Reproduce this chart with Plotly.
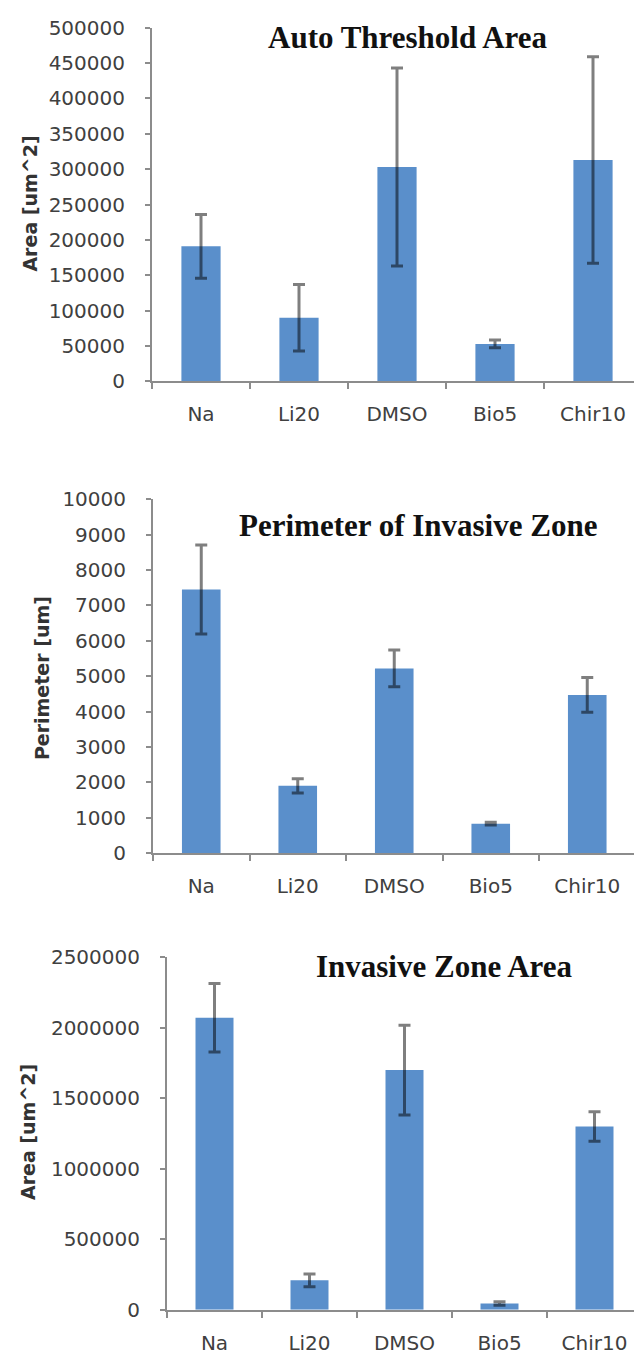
import plotly.graph_objects as go

categories = ["Na", "Li20", "DMSO", "Bio5", "Chir10"]

auto_area = [191000, 90000, 303000, 53000, 313000]
auto_area_err = [45000, 47000, 140000, 5500, 146000]

perimeter = [7450, 1900, 5220, 830, 4470]
perimeter_err = [1260, 200, 520, 40, 490]

inv_area = [2070000, 209000, 1700000, 45000, 1300000]
inv_area_err = [243000, 46000, 318000, 12000, 105000]

titles = ["Auto Threshold Area", "Perimeter of Invasive Zone", "Invasive Zone Area"]
ytitles = ["Area [um^2]", "Perimeter [um]", "Area [um^2]"]
ymax = [500000, 10000, 2500000]
ydtick = [50000, 1000, 500000]

W, H = 634, 1370
BAR = "#5a8fcb"
AXC = "#8c8c8c"
TICKFONT = dict(family="DejaVu Sans", size=20, color="#404040")

# pixel geometry of each panel: axis x, category width, zero y, top y
panels = [
    dict(ax=152, cw=98.0, y0=376, y1=16, tx=408, ty=26, yx=30, yy=195),
    dict(ax=153, cw=96.5, y0=856, y1=496, tx=418, ty=523, yx=42, yy=678),
    dict(ax=167, cw=95.0, y0=1321, y1=962, tx=444, ty=972, yx=28, yy=1140),
]

series = [(auto_area, auto_area_err), (perimeter, perimeter_err), (inv_area, inv_area_err)]

fig = go.Figure()
annotations = []
for i, (p, (vals, errs)) in enumerate(zip(panels, series)):
    sfx = "" if i == 0 else str(i + 1)
    fig.add_trace(go.Bar(
        x=categories, y=vals, width=0.4,
        marker=dict(color=BAR, line=dict(width=0)),
        error_y=dict(type="data", array=errs, visible=True,
                     color="rgba(0,0,0,0.5)", thickness=3, width=6),
        xaxis="x" + sfx, yaxis="y" + sfx, showlegend=False,
    ))
    xr_end = (W - p["ax"]) / p["cw"] - 0.5
    fig.update_layout({
        "xaxis" + sfx: dict(
            domain=[p["ax"] / W, 1], range=[-0.5, xr_end],
            anchor="y" + sfx, showline=True, linecolor=AXC, linewidth=2,
            ticks="outside", tickson="boundaries", ticklen=6, tickwidth=2,
            tickcolor=AXC, tickfont=TICKFONT, showgrid=False,
            ticklabelstandoff=14, fixedrange=True,
        ),
        "yaxis" + sfx: dict(
            domain=[(H - p["y0"]) / H, (H - p["y1"]) / H],
            range=[0, ymax[i]], dtick=ydtick[i], tickformat="d",
            anchor="x" + sfx, showline=True, linecolor=AXC, linewidth=2,
            ticks="outside", ticklen=5, tickwidth=2, tickcolor=AXC,
            tickfont=TICKFONT, showgrid=False, zeroline=False,
            ticklabelstandoff=16, fixedrange=True,
        ),
    })
    annotations.append(dict(
        text="<b>" + titles[i] + "</b>", x=p["tx"] / W, y=(H - p["ty"]) / H,
        xref="paper", yref="paper", showarrow=False, xanchor="center", yanchor="middle",
        font=dict(family="Liberation Serif", size=31, color="#111111"),
    ))
    annotations.append(dict(
        text="<b>" + ytitles[i] + "</b>", x=p["yx"] / W, y=(H - p["yy"]) / H,
        xref="paper", yref="paper", showarrow=False, xanchor="center", yanchor="middle",
        textangle=-90, font=dict(family="DejaVu Sans", size=19, color="#333333"),
    ))

fig.update_layout(
    width=W, height=H, margin=dict(l=0, r=0, t=0, b=0),
    paper_bgcolor="white", plot_bgcolor="white",
    annotations=annotations, bargap=0.6, hovermode=False,
)

fig.write_html(
    "out.html",
    config={"displayModeBar": False, "staticPlot": True},
    post_script="document.body.style.margin='0';document.body.style.overflow='hidden';",
)
